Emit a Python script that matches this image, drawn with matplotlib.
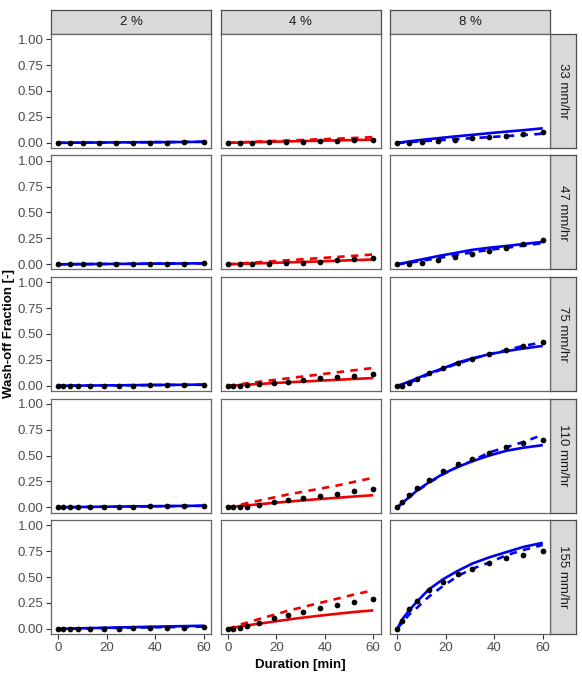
import numpy as np
import matplotlib.pyplot as plt

plt.rcParams['font.family'] = ['Liberation Sans', 'DejaVu Sans']

# --- Data ---
slopes = ["2 %", "4 %", "8 %"]
intensities = ["33 mm/hr", "47 mm/hr", "75 mm/hr", "110 mm/hr", "155 mm/hr"]
slope_colors = ["#0000F0", "#F00000", "#0000F0"]

t_sparse = [0, 5, 10, 17, 24, 31, 38, 45, 52, 60]               # 33 and 47 mm/hr
t_dense = [0, 2, 5, 8, 13, 19, 25, 31, 38, 45, 52, 60]          # 75, 110, 155 mm/hr
row_times = [t_sparse, t_sparse, t_dense, t_dense, t_dense]

# observed wash-off fraction, [slope][intensity]
obs_2 = [
    [0, 0, 0, 0, 0, 0, 0, 0, 0.005, 0.012],
    [0, 0, 0, 0, 0, 0, 0, 0.003, 0.006, 0.01],
    [0, 0, 0, 0, 0, 0, 0, 0.003, 0.005, 0.007, 0.009, 0.012],
    [0, 0, 0, 0, 0.002, 0.004, 0.005, 0.007, 0.009, 0.011, 0.013, 0.015],
    [0, 0, 0, 0, 0, 0.002, 0.003, 0.004, 0.006, 0.008, 0.01, 0.015],
]
obs_4 = [
    [0, 0, 0, 0.007, 0.01, 0.01, 0.016, 0.016, 0.023, 0.03],
    [0, 0, 0, 0.007, 0.01, 0.01, 0.023, 0.04, 0.053, 0.06],
    [0, 0, 0, 0.006, 0.016, 0.026, 0.039, 0.058, 0.075, 0.088, 0.097, 0.114],
    [0, 0, 0, 0.006, 0.023, 0.055, 0.075, 0.091, 0.114, 0.13, 0.153, 0.179],
    [0, 0, 0.01, 0.026, 0.06, 0.101, 0.13, 0.166, 0.201, 0.231, 0.26, 0.292],
]
obs_8 = [
    [0, 0, 0.005, 0.015, 0.03, 0.045, 0.055, 0.065, 0.085, 0.10],
    [0, 0, 0.014, 0.04, 0.07, 0.096, 0.128, 0.16, 0.2, 0.236],
    [0, 0.003, 0.032, 0.068, 0.123, 0.172, 0.221, 0.26, 0.309, 0.344, 0.383, 0.422],
    [0, 0.055, 0.12, 0.185, 0.266, 0.351, 0.416, 0.465, 0.526, 0.578, 0.617, 0.65],
    [0, 0.075, 0.19, 0.27, 0.37, 0.455, 0.53, 0.58, 0.635, 0.68, 0.715, 0.747],
]

# model 1 (solid line)
fit_a_2 = [
    [0, 0.001, 0.002, 0.003, 0.004, 0.005, 0.006, 0.007, 0.008, 0.01],
    [0, 0.001, 0.002, 0.003, 0.004, 0.005, 0.006, 0.007, 0.008, 0.01],
    [0, 0.001, 0.002, 0.002, 0.003, 0.004, 0.005, 0.006, 0.008, 0.009, 0.01, 0.012],
    [0, 0.001, 0.002, 0.003, 0.004, 0.006, 0.007, 0.009, 0.011, 0.012, 0.014, 0.016],
    [0, 0.001, 0.003, 0.004, 0.007, 0.01, 0.013, 0.016, 0.02, 0.023, 0.026, 0.03],
]
fit_a_4 = [
    [0, 0.003, 0.006, 0.01, 0.013, 0.017, 0.02, 0.023, 0.027, 0.03],
    [0, 0.004, 0.008, 0.013, 0.018, 0.023, 0.028, 0.034, 0.04, 0.047],
    [0, 0.003, 0.007, 0.011, 0.018, 0.026, 0.034, 0.041, 0.05, 0.058, 0.066, 0.075],
    [0, 0.005, 0.012, 0.018, 0.03, 0.043, 0.055, 0.067, 0.08, 0.092, 0.104, 0.117],
    [0, 0.01, 0.022, 0.033, 0.05, 0.07, 0.09, 0.108, 0.127, 0.145, 0.162, 0.178],
]
fit_a_8 = [
    [0, 0.015, 0.028, 0.045, 0.062, 0.077, 0.093, 0.108, 0.122, 0.14],
    [0, 0.024, 0.047, 0.08, 0.11, 0.14, 0.16, 0.177, 0.196, 0.216],
    [0, 0.015, 0.042, 0.07, 0.12, 0.17, 0.225, 0.265, 0.305, 0.335, 0.36, 0.385],
    [0, 0.04, 0.10, 0.16, 0.24, 0.325, 0.39, 0.445, 0.50, 0.546, 0.575, 0.60],
    [0, 0.09, 0.18, 0.26, 0.38, 0.48, 0.56, 0.63, 0.69, 0.74, 0.79, 0.83],
]

# model 2 (dashed line)
fit_b_2 = [
    [0, 0.001, 0.002, 0.003, 0.004, 0.005, 0.006, 0.007, 0.008, 0.01],
    [0, 0.001, 0.002, 0.003, 0.004, 0.005, 0.006, 0.007, 0.008, 0.01],
    [0, 0.001, 0.001, 0.002, 0.003, 0.004, 0.005, 0.006, 0.007, 0.008, 0.009, 0.01],
    [0, 0.001, 0.001, 0.002, 0.003, 0.005, 0.006, 0.008, 0.009, 0.011, 0.012, 0.014],
    [0, 0.001, 0.002, 0.003, 0.005, 0.007, 0.009, 0.011, 0.014, 0.016, 0.018, 0.021],
]
fit_b_4 = [
    [0, 0.005, 0.01, 0.016, 0.022, 0.028, 0.034, 0.04, 0.047, 0.055],
    [0, 0.008, 0.016, 0.027, 0.038, 0.049, 0.06, 0.071, 0.082, 0.095],
    [0, 0.006, 0.015, 0.024, 0.039, 0.056, 0.073, 0.09, 0.11, 0.13, 0.15, 0.172],
    [0, 0.01, 0.025, 0.04, 0.065, 0.095, 0.125, 0.15, 0.18, 0.21, 0.245, 0.285],
    [0, 0.015, 0.04, 0.06, 0.095, 0.135, 0.175, 0.21, 0.25, 0.29, 0.33, 0.372],
]
fit_b_8 = [
    [0, 0.007, 0.015, 0.025, 0.035, 0.045, 0.055, 0.065, 0.075, 0.088],
    [0, 0.015, 0.035, 0.06, 0.09, 0.115, 0.14, 0.16, 0.18, 0.205],
    [0, 0.01, 0.03, 0.06, 0.11, 0.165, 0.215, 0.26, 0.305, 0.345, 0.385, 0.42],
    [0, 0.04, 0.10, 0.155, 0.235, 0.32, 0.39, 0.45, 0.53, 0.58, 0.63, 0.70],
    [0, 0.06, 0.14, 0.20, 0.31, 0.415, 0.51, 0.58, 0.64, 0.71, 0.76, 0.81],
]

obs = [obs_2, obs_4, obs_8]
fit_a = [fit_a_2, fit_a_4, fit_a_8]
fit_b = [fit_b_2, fit_b_4, fit_b_8]

x_ticks = [0, 20, 40, 60]
y_ticks = [0, 0.25, 0.5, 0.75, 1.0]

# --- Layout (pixels of a 582x686 canvas) ---
W, H = 582, 686
col_left = [51, 220.5, 390]
panel_w = 160
row_top = [34, 155.5, 277, 398.5, 520]
panel_h = 114
strip_top, strip_h = 10, 24
strip_x, strip_w = 550, 26

panel_edge = "#666666"
strip_edge = "#4d4d4d"
strip_fill = "#d9d9d9"

fig = plt.figure(figsize=(W / 100, H / 100), dpi=100)


def frac_box(x, y, w, h):
    return [x / W, 1 - (y + h) / H, w / W, h / H]


def strip(x, y, w, h, text, rotation=0):
    sax = fig.add_axes(frac_box(x, y, w, h))
    sax.set_facecolor(strip_fill)
    sax.set_xticks([])
    sax.set_yticks([])
    for s in sax.spines.values():
        s.set_color(strip_edge)
        s.set_linewidth(0.9)
    sax.text(0.5, 0.5, text, ha='center', va='center', rotation=rotation,
             fontsize=9.5, color='#1a1a1a', transform=sax.transAxes)


for j, slope in enumerate(slopes):
    strip(col_left[j], strip_top, panel_w, strip_h, slope)

for i, lab in enumerate(intensities):
    strip(strip_x, row_top[i], strip_w, panel_h, lab, rotation=-90)

for i in range(len(intensities)):
    t = row_times[i]
    for j in range(len(slopes)):
        ax = fig.add_axes(frac_box(col_left[j], row_top[i], panel_w, panel_h))
        c = slope_colors[j]
        ax.plot(t, fit_a[j][i], color=c, lw=1.9, solid_capstyle='butt', zorder=3)
        ax.plot(t, fit_b[j][i], color=c, lw=1.9, linestyle=(0, (2.8, 2.4)), zorder=3)
        ax.scatter(t, obs[j][i], s=17, color='black', zorder=4, linewidths=0)

        ax.set_xlim(-3, 63)
        ax.set_ylim(-0.05, 1.05)
        ax.set_xticks(x_ticks)
        ax.set_yticks(y_ticks)
        ax.set_yticklabels([f"{v:.2f}" for v in y_ticks])
        ax.tick_params(length=3.5, width=0.8, color='#333333', labelsize=9.5,
                       labelcolor='#4d4d4d', pad=2)
        if j != 0:
            ax.tick_params(axis='y', left=False, labelleft=False)
        if i != len(intensities) - 1:
            ax.tick_params(axis='x', bottom=False, labelbottom=False)
        for s in ax.spines.values():
            s.set_color(panel_edge)
            s.set_linewidth(0.9)

fig.text(9 / W, 1 - (row_top[0] + row_top[-1] + panel_h) / 2 / H, "Wash-off Fraction [-]",
         rotation=90, ha='center', va='center', fontsize=9.5, fontweight='bold')
fig.text((col_left[0] + col_left[-1] + panel_w) / 2 / W, 1 - 665 / H, "Duration [min]",
         ha='center', va='center', fontsize=9.5, fontweight='bold')

fig.savefig("out.png", dpi=100)
